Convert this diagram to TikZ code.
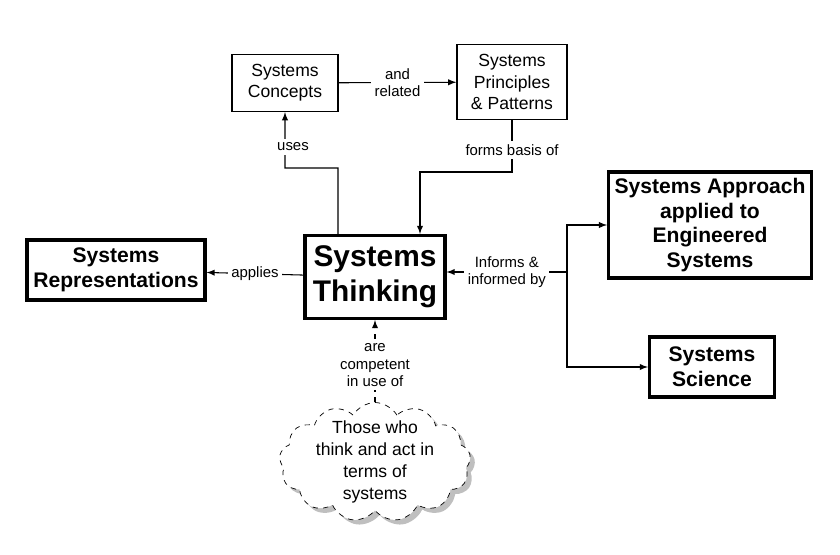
\documentclass[tikz,border=0pt]{standalone}
\usepackage{fontspec}
\setmainfont{Liberation Sans}
\usetikzlibrary{arrows,shapes.symbols,shadows}

\tikzset{
  box/.style={draw,thick,fill=white,align=center,font=\fontsize{10}{12}\selectfont,inner sep=3pt},
  bigbox/.style={draw,line width=1.8pt,fill=white,align=center,font=\fontsize{12}{14}\selectfont\bfseries},
  lab/.style={fill=white,align=center,font=\fontsize{8.5}{10}\selectfont,inner sep=2pt},
  link/.style={-latex,semithick}
}

\begin{document}
\begin{tikzpicture}[x=0.02cm,y=-0.02cm]
\useasboundingbox (0,0) rectangle (840,555);
\node[box,minimum width=2.12cm,minimum height=1.14cm] (concepts) at (285,83) {Systems\\Concepts};
\node[box,minimum width=2.2cm,minimum height=1.5cm] (principles) at (512,82) {Systems\\Principles\\\& Patterns};
\node[bigbox,minimum width=2.8cm,minimum height=1.66cm,font=\fontsize{17}{20}\selectfont\bfseries] (thinking) at (375,277) {Systems\\Thinking};
\node[bigbox,minimum width=3.56cm,minimum height=1.2cm] (repr) at (116,270) {Systems\\Representations};
\node[bigbox,minimum width=3.92cm,minimum height=2.12cm] (approach) at (710,225) {Systems Approach\\applied to\\Engineered\\Systems};
\node[bigbox,minimum width=2.5cm,minimum height=1.2cm] (science) at (712,367) {Systems\\Science};
\node[cloud,cloud puffs=13,cloud puff arc=120,aspect=1.9,draw,dashed,fill=white,drop shadow,
      inner sep=-4pt,align=center,font=\fontsize{10}{12.5}\selectfont] (people) at (375,462)
      {Those who\\think and act in\\terms of\\systems};

% concepts -> principles
\draw[link] (concepts) -- node[lab] {and\\related} (principles);
% uses
\coordinate (usesbend) at (338,168);
\draw[link] ([xshift=-0.74cm]thinking.north) -- (usesbend) -| (concepts.south);
\node[lab] at (293,147) {uses};
% forms basis of
\draw[link] (principles.south) |- (420,172) -- (420,172 |- thinking.north);
\node[lab] at (512,150) {forms basis of};
% applies
\draw[link] (thinking) -- node[lab] {applies} (repr);
% informs
\coordinate (split) at (567,272);
\draw[link] (split) -- node[lab] {Informs \&\\informed by} (thinking.east |- split);
\draw[link] (split) |- (approach.west);
\draw[link] (split) |- (science.west);
% competent
\draw[link,dashed] (people.north) -- node[lab,pos=0.45] {are\\competent\\in use of} (thinking.south);
\end{tikzpicture}
\end{document}
